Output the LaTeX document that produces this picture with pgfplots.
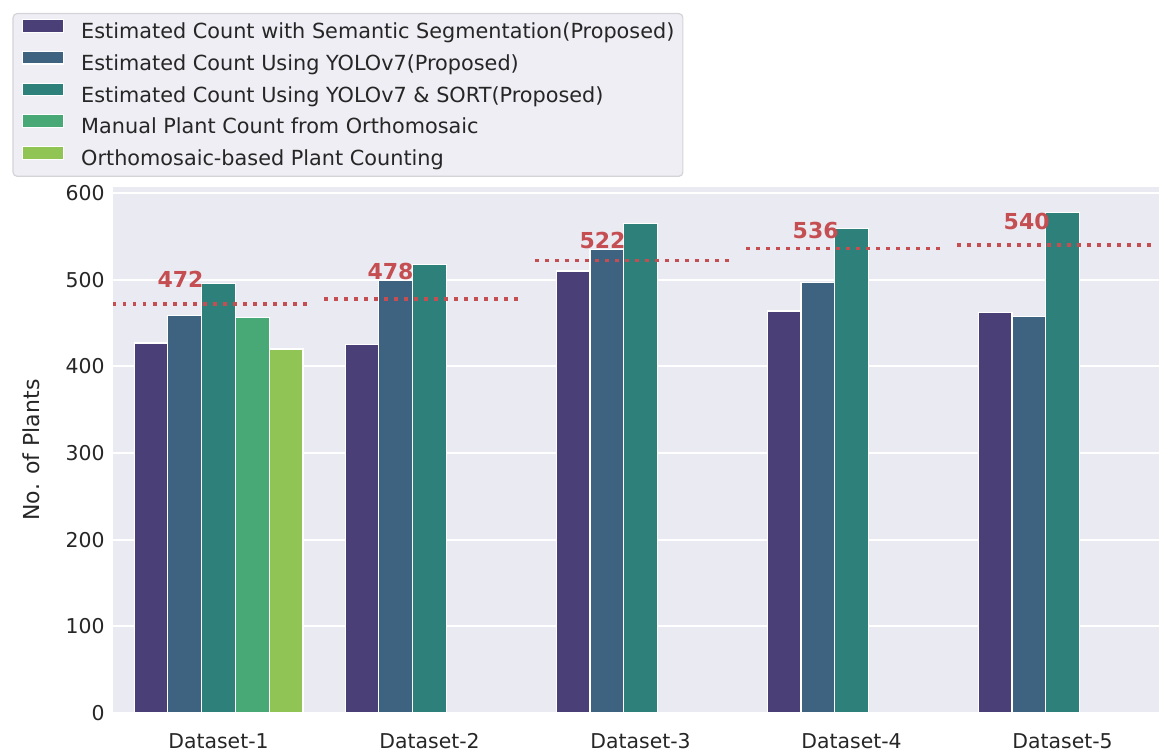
\documentclass[border=0pt]{standalone}
\usepackage{fontspec}
\setmainfont{DejaVu Sans}
\usepackage{pgfplots}
\pgfplotsset{compat=1.18}
\definecolor{bg}{HTML}{EAEAF2}
\definecolor{c1}{HTML}{4B3F77}
\definecolor{c2}{HTML}{3D6380}
\definecolor{c3}{HTML}{2E807A}
\definecolor{c4}{HTML}{48A876}
\definecolor{c5}{HTML}{90C455}
\definecolor{redl}{HTML}{C44E52}
\definecolor{txt}{HTML}{262626}
\definecolor{legbg}{HTML}{EEEEF4}
\definecolor{legedge}{HTML}{D4D4D8}
\begin{document}
\begin{tikzpicture}
\path[use as bounding box] (-56.5pt,-20pt) rectangle (523pt,356.5pt);
\begin{axis}[
  scale only axis, width=523pt, height=263pt,
  xmin=-0.5, xmax=4.457, ymin=0, ymax=607,
  axis background/.style={fill=bg},
  axis line style={draw=none},
  major tick length=0pt,
  ytick={0,100,200,300,400,500,600},
  xtick={0,1,2,3,4},
  xticklabels={Dataset-1,Dataset-2,Dataset-3,Dataset-4,Dataset-5},
  ymajorgrids, grid style={white, line width=1pt},
  /pgf/number format/assume math mode=true,
  tick label style={font=\fontsize{10.2}{12}\selectfont, text=txt},
  yticklabel style={anchor=east, inner sep=0pt, xshift=-4pt},
  xticklabel style={anchor=base, inner sep=0pt, yshift=-17.5pt},
  ylabel={No. of Plants},
  ylabel style={at={(axis description cs:-0.0784,0.5)}, anchor=center, font=\fontsize{11}{13}\selectfont, text=txt},
  legend cell align=left,
  legend image code/.code={\fill[#1, sharp corners] (0pt,0pt) rectangle (20.7pt,6.3pt);},
  legend style={at={(axis description cs:0,1)}, anchor=north west, xshift=-50.25pt, yshift=87pt,
    fill=legbg, draw=legedge, rounded corners=2pt, line width=0.6pt,
    font=\fontsize{10.4}{12}\selectfont, text=txt,
    nodes={inner sep=0pt, text height=9pt, text depth=2.5pt},
    column sep=8.5pt, row sep=3.5pt, inner xsep=4.25pt, inner ysep=2.8pt},
]
% bars
\addplot[ybar, bar width=0.16, bar shift=-0.32, fill=c1, draw=white, line width=0.6pt]
  coordinates {(0,427) (1,425) (2,510) (3,464) (4,462)};
\addlegendentry{Estimated Count with Semantic Segmentation(Proposed)}
\addplot[ybar, bar width=0.16, bar shift=-0.16, fill=c2, draw=white, line width=0.6pt]
  coordinates {(0,459) (1,499) (2,535) (3,497) (4,458)};
\addlegendentry{Estimated Count Using YOLOv7(Proposed)}
\addplot[ybar, bar width=0.16, bar shift=0, fill=c3, draw=white, line width=0.6pt]
  coordinates {(0,496) (1,518) (2,565) (3,559) (4,578)};
\addlegendentry{Estimated Count Using YOLOv7 \& SORT(Proposed)}
\addplot[ybar, bar width=0.16, bar shift=0.16, fill=c4, draw=white, line width=0.6pt]
  coordinates {(0,456)};
\addlegendentry{Manual Plant Count from Orthomosaic}
\addplot[ybar, bar width=0.16, bar shift=0.32, fill=c5, draw=white, line width=0.6pt]
  coordinates {(0,420)};
\addlegendentry{Orthomosaic-based Plant Counting}
% reference lines
\addplot[forget plot, redl, line width=1.75pt, dash pattern=on 1.75pt off 3.25pt] coordinates {(-0.5,472) (0.42,472)};
\addplot[forget plot, redl, line width=1.75pt, dash pattern=on 1.75pt off 3.25pt] coordinates {(0.5,478) (1.42,478)};
\addplot[forget plot, redl, line width=1.75pt, dash pattern=on 1.75pt off 3.25pt] coordinates {(1.5,522) (2.42,522)};
\addplot[forget plot, redl, line width=1.75pt, dash pattern=on 1.75pt off 3.25pt] coordinates {(2.5,536) (3.42,536)};
\addplot[forget plot, redl, line width=1.75pt, dash pattern=on 1.75pt off 3.25pt] coordinates {(3.5,540) (4.42,540)};
\begin{scope}[every node/.style={anchor=base, inner sep=0pt, text=redl, font=\bfseries\fontsize{11}{13}\selectfont}]
\node at (axis cs:-0.18,491.5) {472};
\node at (axis cs:0.815,500.7) {478};
\node at (axis cs:1.82,536.5) {522};
\node at (axis cs:2.83,548) {536};
\node at (axis cs:3.83,558) {540};
\end{scope}
\end{axis}
\end{tikzpicture}
\end{document}
